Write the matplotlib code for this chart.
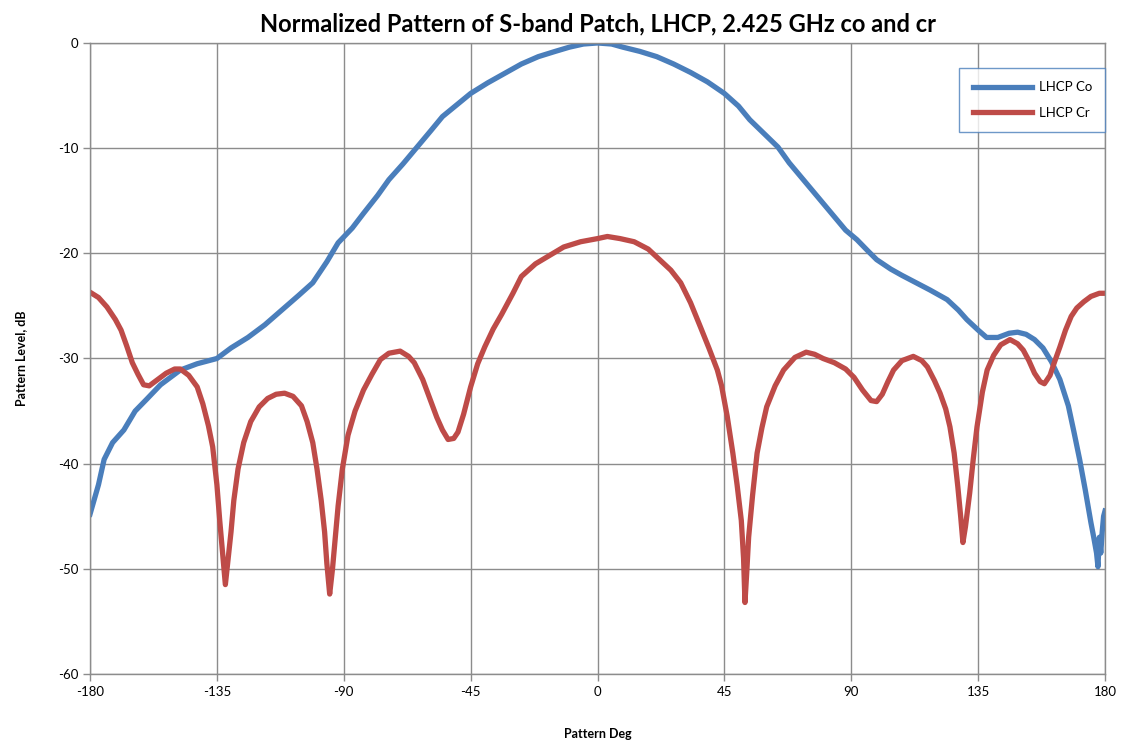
import matplotlib.pyplot as plt

plt.rcParams['font.family'] = ['Lato', 'DejaVu Sans']
plt.rcParams['axes.unicode_minus'] = False

# LHCP Co (blue)
co_deg = [-180, -177, -175, -172, -168, -164, -160, -155, -148, -142, -135, -130,
          -124, -118, -112, -106, -101, -96, -92, -87, -83, -78, -74, -69, -64,
          -59, -55, -50, -45, -39, -33, -27, -21, -15, -10, -5, 0, 5, 9, 15, 21,
          27, 33, 39, 45, 50, 54, 59, 64, 68, 73, 78, 83, 88, 92, 96, 99, 104,
          108, 113, 118, 124, 128, 131, 135, 138, 142, 146, 149, 152, 155, 158,
          161, 164, 167, 169, 171, 173, 175, 176, 177, 177.5, 178, 178.5, 179,
          179.5, 180]
co_db = [-44.8, -42.0, -39.6, -38.0, -36.8, -35.0, -33.9, -32.5, -31.1, -30.5,
         -30.0, -29.0, -28.0, -26.8, -25.4, -24.0, -22.8, -20.8, -19.0, -17.6,
         -16.2, -14.5, -13.0, -11.5, -9.9, -8.3, -7.0, -5.9, -4.8, -3.8, -2.9,
         -2.0, -1.3, -0.8, -0.4, -0.1, 0.0, -0.1, -0.4, -0.8, -1.3, -2.0, -2.8,
         -3.7, -4.8, -6.0, -7.3, -8.6, -9.9, -11.4, -13.0, -14.6, -16.2, -17.8,
         -18.7, -19.8, -20.6, -21.5, -22.1, -22.8, -23.5, -24.4, -25.4, -26.3,
         -27.3, -28.0, -28.0, -27.6, -27.5, -27.7, -28.2, -29.0, -30.3, -32.0,
         -34.5, -37.0, -39.6, -42.5, -45.6, -47.0, -48.5, -49.8, -47.0, -48.5,
         -46.5, -45.0, -44.5]

# LHCP Cr (red)
cr_deg = [-180, -177, -174, -171, -169, -167, -165, -163, -161, -159, -156, -153,
          -150, -148, -145, -142, -140, -138, -136.5, -135, -134, -133, -132,
          -131, -130, -129, -127.5, -125.5, -123, -120, -117, -114, -111, -108,
          -105, -103, -101, -99.5, -98, -96.8, -96, -95, -94, -93, -92, -90.5,
          -88.5, -86, -83, -80, -77, -74, -70, -67, -65, -62, -59.5, -57, -55,
          -53, -51, -49.5, -47.5, -45, -42.5, -40, -37, -34, -30, -27, -22, -17,
          -12, -6, 0, 3.5, 8, 13, 18, 22, 26, 29.5, 33, 36.5, 39.5, 42.5, 44, 46,
          48, 49.5, 51, 51.8, 52.3, 53, 53.6, 55, 56.6, 58.3, 60, 63, 66, 70, 74,
          77, 80, 84, 88, 91, 94, 97, 99, 101, 103, 105, 108, 112, 115, 117,
          119.5, 121.5, 123.5, 125, 126.5, 127.8, 128.8, 129.6, 130.5, 132,
          133.3, 134.6, 136.5, 138.2, 140.5, 143, 146.3, 149, 151, 153, 155, 157,
          158.5, 160.5, 162, 164, 166, 168, 170, 172.5, 175, 178, 180]
cr_db = [-23.7, -24.2, -25.1, -26.3, -27.3, -28.8, -30.4, -31.5, -32.5, -32.6,
         -32.0, -31.4, -31.0, -31.0, -31.6, -32.7, -34.3, -36.4, -38.4, -42.0,
         -45.4, -48.5, -51.5, -49.0, -46.5, -43.5, -40.5, -38.0, -36.0, -34.6,
         -33.8, -33.4, -33.3, -33.6, -34.5, -36.0, -38.0, -40.5, -43.5, -46.5,
         -49.5, -52.4, -50.0, -47.0, -44.0, -40.5, -37.3, -35.0, -33.0, -31.5,
         -30.1, -29.5, -29.3, -29.8, -30.4, -32.0, -33.8, -35.6, -36.8, -37.7,
         -37.6, -37.0, -35.3, -32.7, -30.5, -28.9, -27.2, -25.8, -23.8, -22.2,
         -21.0, -20.2, -19.4, -18.9, -18.6, -18.4, -18.6, -18.9, -19.6, -20.6,
         -21.6, -22.8, -24.7, -27.0, -29.0, -31.1, -32.6, -35.5, -39.0, -42.0,
         -45.4, -49.0, -53.2, -50.0, -47.0, -43.0, -39.0, -36.6, -34.6, -32.6,
         -31.1, -29.9, -29.4, -29.6, -30.0, -30.4, -31.0, -31.8, -33.0, -34.0,
         -34.1, -33.4, -32.2, -31.1, -30.2, -29.8, -30.2, -30.8, -32.1, -33.3,
         -34.8, -36.5, -39.0, -42.2, -45.0, -47.5, -46.0, -42.8, -39.5, -36.5,
         -33.2, -31.1, -29.7, -28.7, -28.2, -28.6, -29.2, -30.2, -31.4, -32.2,
         -32.4, -31.6, -30.4, -28.9, -27.3, -26.0, -25.2, -24.6, -24.1, -23.8,
         -23.8]

x_ticks = [-180, -135, -90, -45, 0, 45, 90, 135, 180]
y_ticks = [0, -10, -20, -30, -40, -50, -60]

fig = plt.figure(figsize=(11.24, 7.46), dpi=100)
ax = fig.add_axes([0.0801, 0.0965, 0.903, 0.8459])

grid_c = '#8c8c8c'
ax.plot(co_deg, co_db, color='#4a7ebb', lw=3.8, label='LHCP Co', solid_joinstyle='round')
ax.plot(cr_deg, cr_db, color='#be4b48', lw=3.8, label='LHCP Cr', solid_joinstyle='round')

ax.set_xlim(-180, 180)
ax.set_ylim(-60, 0)
ax.set_xticks(x_ticks)
ax.set_yticks(y_ticks)
ax.grid(True, color=grid_c, lw=1)
ax.set_axisbelow(True)
for s in ax.spines.values():
    s.set_color(grid_c)
    s.set_linewidth(1)
ax.tick_params(colors=grid_c, labelcolor='black', labelsize=9.5, length=5, width=1)

ax.set_title('Normalized Pattern of S-band Patch, LHCP, 2.425 GHz co and cr',
             fontsize=17, fontweight='bold', pad=8)
ax.set_xlabel('Pattern Deg', fontsize=9, fontweight='bold', labelpad=22)
ax.set_ylabel('Pattern Level, dB', fontsize=9, fontweight='bold', labelpad=22)

leg = ax.legend(loc='upper right', bbox_to_anchor=(1.0, 0.96), borderaxespad=0,
                fontsize=9.5, frameon=True, fancybox=False, handlelength=4.5,
                borderpad=1.0, labelspacing=1.0, handletextpad=0.5)
leg.get_frame().set_edgecolor('#4a7ebb')
leg.get_frame().set_linewidth(1)

fig.savefig('out.png', dpi=100)
